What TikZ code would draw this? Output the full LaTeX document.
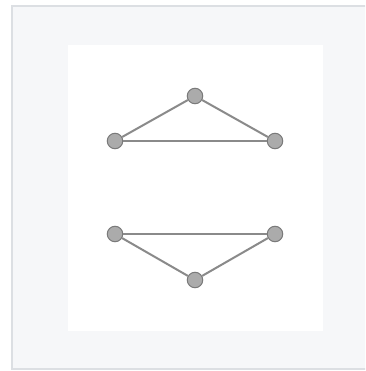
\documentclass[tikz,border=0pt]{standalone}
\usepackage{tikz}
\usetikzlibrary{positioning}
\definecolor{frameFill}{HTML}{F6F7F9}
\definecolor{frameLine}{HTML}{DCDFE3}
\definecolor{vertFill}{HTML}{ABABAB}
\definecolor{vertLine}{HTML}{7A7A7A}
\definecolor{edgeGray}{HTML}{8A8A8A}

\begin{document}
\begin{tikzpicture}[x=1pt, y=-1pt,
    vert/.style={circle, draw=vertLine, fill=vertFill, line width=1pt, minimum size=15.5pt, inner sep=0pt},
    edge/.style={draw=edgeGray, line width=2pt}]
  \useasboundingbox (0,0) rectangle (365,371);
  \begin{scope}
    \clip (0,0) rectangle (365,371);
    \draw[frameLine, fill=frameFill, line width=1.5pt] (12,6) rectangle (368,369);
  \end{scope}
  \fill[white] (68,45) rectangle (323,331);

  % upper triangle
  \node[vert] (ul) at (115,141) {};
  \node[vert] (ut) at (195,96) {};
  \node[vert] (ur) at (275,141) {};
  % lower triangle
  \node[vert] (ll) at (115,234) {};
  \node[vert] (lb) at (195,280) {};
  \node[vert] (lr) at (275,234) {};

  \draw[edge] (ul) -- (ut);
  \draw[edge] (ut) -- (ur);
  \draw[edge] (ul) -- (ur);
  \draw[edge] (ll) -- (lr);
  \draw[edge] (ll) -- (lb);
  \draw[edge] (lb) -- (lr);
\end{tikzpicture}
\end{document}
